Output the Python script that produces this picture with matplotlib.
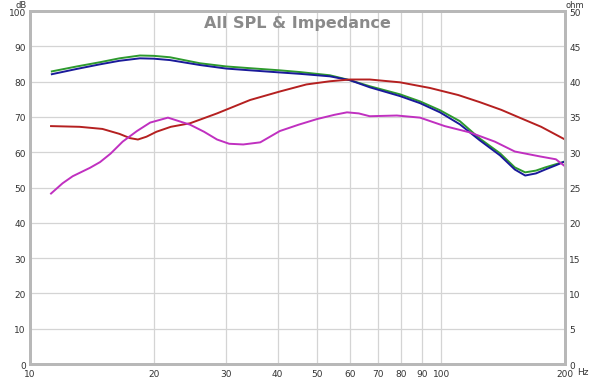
import matplotlib
matplotlib.use('Agg')
import matplotlib.pyplot as plt
import matplotlib.transforms as mtrans

# SPL traces (dB)
freq_spl = [11.3, 13.0, 14.8, 16.5, 18.5, 20.0, 21.9, 25.9, 30.0, 34.3, 40.5, 45.4,
            53.6, 60.0, 67.0, 79.4, 88.8, 99.3, 111, 124, 139, 151, 160, 170, 179, 190, 200]
spl_green = [82.9, 84.3, 85.5, 86.6, 87.4, 87.3, 86.9, 85.2, 84.3, 83.8, 83.2, 82.7,
             81.8, 80.4, 78.7, 76.4, 74.4, 71.9, 68.8, 63.9, 59.7, 55.7, 54.3, 54.8, 55.7, 56.6, 57.4]
spl_blue = [82.1, 83.6, 84.9, 85.9, 86.6, 86.5, 86.1, 84.7, 83.7, 83.2, 82.6, 82.2,
            81.5, 80.4, 78.4, 75.9, 73.9, 71.3, 67.9, 63.4, 59.1, 55.1, 53.4, 54.0, 55.1, 56.3, 57.4]

# impedance traces (ohm)
freq_red = [11.25, 13.2, 15.0, 16.5, 17.5, 18.3, 19.2, 20.3, 22.0, 24.5, 28.5, 34.3, 40.5,
            47.0, 53.6, 60.0, 67.0, 79.4, 93.9, 110, 124, 140, 155, 175, 200]
imp_red = [33.7, 33.6, 33.3, 32.6, 32.0, 31.8, 32.2, 32.9, 33.6, 34.1, 35.5, 37.4, 38.6,
           39.6, 40.05, 40.3, 40.3, 39.9, 39.1, 38.1, 37.1, 36.0, 34.9, 33.6, 31.8]
freq_mag = [11.25, 12.0, 12.7, 14.0, 14.8, 15.7, 16.8, 18.2, 19.6, 21.65, 24.5, 26.5,
            28.5, 30.5, 33.0, 36.3, 40.5, 45.0, 49.9, 55.0, 59.0, 63.0, 67.0, 78.0,
            88.8, 102, 117.5, 135, 151, 174, 190, 200]
imp_mag = [24.15, 25.6, 26.6, 27.8, 28.6, 29.8, 31.5, 33.0, 34.2, 34.9, 33.9, 32.9,
           31.8, 31.2, 31.1, 31.4, 33.0, 33.9, 34.7, 35.3, 35.65, 35.5, 35.1, 35.2,
           34.9, 33.7, 32.8, 31.5, 30.1, 29.4, 29.0, 28.0]

xticks = [10, 20, 30, 40, 50, 60, 70, 80, 90, 100, 200]

fig = plt.figure(figsize=(6, 3.8), dpi=100)
ax = fig.add_axes([0.05, 0.042, 0.8917, 0.929])
ax2 = ax.twinx()

ax.set_xscale('log')
ax.set_xlim(10, 200)
ax.set_ylim(0, 100)
ax2.set_ylim(0, 50)

ax.set_xticks(xticks)
ax.set_xticklabels([str(t) for t in xticks])
ax.minorticks_off()
ax.set_yticks(range(0, 101, 10))
ax2.set_yticks(range(0, 51, 5))
ax.grid(True, color='#d4d4d4', linewidth=0.9)
ax.set_axisbelow(True)

for a in (ax, ax2):
    a.tick_params(length=0, labelsize=6.5, colors='#333333', pad=3)
    for s in a.spines.values():
        s.set_color('#b8b8b8')
        s.set_linewidth(2)
ax.tick_params(axis='x', pad=4)
# labels sit a touch below their gridline in the reference
shift = mtrans.ScaledTranslation(0, -1 / 100, fig.dpi_scale_trans)
for lbl in ax.get_yticklabels() + ax2.get_yticklabels():
    lbl.set_transform(lbl.get_transform() + shift)

ax2.plot(freq_red, imp_red, color='#b52020', lw=1.4)
ax2.plot(freq_mag, imp_mag, color='#c030c0', lw=1.4)
ax.plot(freq_spl, spl_green, color='#2e9a2e', lw=1.4)
ax.plot(freq_spl, spl_blue, color='#1a1a9a', lw=1.4)

ax.text(0.5, 0.985, 'All SPL & Impedance', transform=ax.transAxes, ha='center', va='top',
        fontsize=11.5, fontweight='bold', color='#8a8a8a')
fig.text(0.035, 0.998, 'dB', ha='center', va='top', fontsize=6, color='#333333')
fig.text(0.958, 0.998, 'ohm', ha='center', va='top', fontsize=6, color='#333333')
fig.text(0.972, 0.02, 'Hz', ha='center', va='center', fontsize=6.5, color='#333333')

fig.savefig('out.png', dpi=100)
